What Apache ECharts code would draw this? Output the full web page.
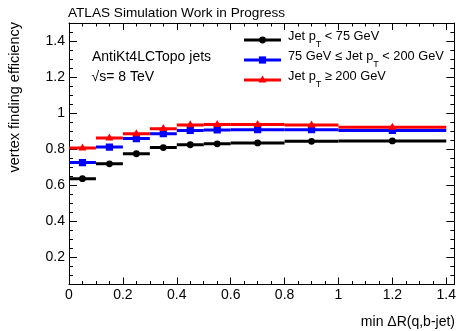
<!DOCTYPE html>
<html><head><meta charset="utf-8">
<script src="https://cdn.jsdelivr.net/npm/echarts@6/dist/echarts.min.js"></script>
<style>html,body{margin:0;padding:0;background:#fff}#c{width:459px;height:331px}</style>
</head><body><div id="c"></div>
<script>
// bins of min dR(q,b-jet)
const binLow    = [0, 0.1, 0.2, 0.3, 0.4, 0.5, 0.6, 0.8, 1.0];
const binHigh   = [0.1, 0.2, 0.3, 0.4, 0.5, 0.6, 0.8, 1.0, 1.4];
const binCenter = [0.05, 0.15, 0.25, 0.35, 0.45, 0.55, 0.7, 0.9, 1.2];
// vertex finding efficiency per jet pT range
const effPtLow  = [0.637, 0.719, 0.775, 0.809, 0.825, 0.830, 0.835, 0.844, 0.846];
const effPtMid  = [0.726, 0.812, 0.859, 0.886, 0.904, 0.907, 0.908, 0.908, 0.904];
const effPtHigh = [0.807, 0.862, 0.886, 0.914, 0.935, 0.937, 0.937, 0.934, 0.922];
// tick labels
const xMajorTicks = [0, 0.2, 0.4, 0.6, 0.8, 1, 1.2, 1.4];
const yMajorTicks = [0.2, 0.4, 0.6, 0.8, 1, 1.2, 1.4];
const xRange = [0, 1.43];
const yRange = [0.05, 1.5];

function minorTicks(lo, hi, step, majors) {
  const out = [];
  for (let k = Math.ceil(lo / step - 1e-9); k * step <= hi + 1e-9; k++) {
    const v = +(k * step).toFixed(4);
    if (!majors.some(m => Math.abs(m - v) < 1e-6)) out.push(v);
  }
  return out;
}
const xMinorTicks = minorTicks(xRange[0], xRange[1], 0.05, xMajorTicks);
const yMinorTicks = minorTicks(yRange[0], yRange[1], 0.05, yMajorTicks);

const FONT = '"Liberation Sans", Arial, Helvetica, sans-serif';
const black = '#000000', blue = '#0000ff', red = '#ff0000';

function markerShape(kind, cx, cy, color) {
  if (kind === 'circle') return {type: 'circle', shape: {cx, cy, r: 3.4}, style: {fill: color}};
  if (kind === 'square') return {type: 'rect', shape: {x: cx - 3.6, y: cy - 3.6, width: 7.2, height: 7.2}, style: {fill: color}};
  return {type: 'polygon', shape: {points: [[cx, cy - 4.6], [cx - 4, cy + 2.4], [cx + 4, cy + 2.4]]}, style: {fill: color}};
}

function makeSeries(name, values, color, marker) {
  const data = values.map((v, i) => [binLow[i], binHigh[i], binCenter[i], v]);
  return {
    type: 'custom', name, data, xAxisIndex: 0, yAxisIndex: 0, clip: true,
    encode: {x: [0, 1, 2], y: 3},
    renderItem(params, api) {
      const p0 = api.coord([api.value(0), api.value(3)]);
      const p1 = api.coord([api.value(1), api.value(3)]);
      const pc = api.coord([api.value(2), api.value(3)]);
      return {type: 'group', children: [
        {type: 'line', shape: {x1: p0[0], y1: p0[1], x2: p1[0], y2: p1[1]}, style: {stroke: color, lineWidth: 3}},
        markerShape(marker, pc[0], pc[1], color)
      ]};
    }
  };
}

function axis(position, ticks, len, withLine, labels, range, extra) {
  return Object.assign({
    type: 'value', position, min: range[0], max: range[1],
    axisLine: {show: withLine, onZero: false, lineStyle: {color: black, width: 1}},
    axisTick: {show: true, inside: true, length: len, customValues: ticks, lineStyle: {color: black, width: 1}},
    axisLabel: labels ? {show: true, customValues: ticks, fontSize: 14, fontFamily: FONT, color: black,
      formatter: v => String(+(+v).toFixed(1))} : {show: false},
    splitLine: {show: false}
  }, extra || {});
}

function legendText(pre, post) {
  return '{a|' + pre + '}{s|T}{a|' + post + '}';
}
const richStyle = {
  a: {fontSize: 12.8, fontFamily: FONT, fill: black, color: black, lineHeight: 16, verticalAlign: 'top'},
  s: {fontSize: 9, fontFamily: FONT, fill: black, color: black, lineHeight: 10, padding: [11, 0, 0, 0], verticalAlign: 'top'}
};
function legendRow(y, color, marker, text) {
  return [
    {type: 'line', shape: {x1: 244, y1: y, x2: 281, y2: y}, style: {stroke: color, lineWidth: 3}},
    Object.assign(markerShape(marker, 262.5, y, color), {}),
    {type: 'text', x: 288, y: y - 10.5, style: {text: text, rich: richStyle, verticalAlign: 'top', align: 'left'}}
  ];
}

const chart = echarts.init(document.getElementById('c'), null, {renderer: 'canvas'});
chart.setOption({
  animation: false,
  backgroundColor: '#ffffff',
  grid: {left: 69, right: 3.5, top: 23, bottom: 46.5, containLabel: false},
  xAxis: [
    axis('bottom', xMajorTicks, 7, true, true, xRange, {axisLabel: {show: true, customValues: xMajorTicks, margin: 4, fontSize: 14, fontFamily: FONT, color: black, formatter: v => String(+(+v).toFixed(1))}}),
    axis('bottom', xMinorTicks, 3.5, false, false, xRange),
    axis('top', xMajorTicks, 7, true, false, xRange),
    axis('top', xMinorTicks, 3.5, false, false, xRange)
  ],
  yAxis: [
    axis('left', yMajorTicks, 8, true, true, yRange, {axisLabel: {show: true, customValues: yMajorTicks, margin: 4, fontSize: 14, fontFamily: FONT, color: black, formatter: v => String(+(+v).toFixed(1))}}),
    axis('left', yMinorTicks, 4, false, false, yRange),
    axis('right', yMajorTicks, 8, true, false, yRange),
    axis('right', yMinorTicks, 4, false, false, yRange)
  ],
  series: [
    makeSeries('Jet pT < 75 GeV', effPtLow, black, 'circle'),
    makeSeries('75 GeV ≤ Jet pT < 200 GeV', effPtMid, blue, 'square'),
    makeSeries('Jet pT ≥ 200 GeV', effPtHigh, red, 'triangle')
  ],
  graphic: [
    {type: 'text', x: 68, y: 13.4, style: {text: 'ATLAS Simulation Work in Progress', fontSize: 13.6, fontFamily: FONT, fill: black, verticalAlign: 'middle'}},
    {type: 'text', x: 92, y: 56.8, style: {text: 'AntiKt4LCTopo jets', fontSize: 14, fontFamily: FONT, fill: black, verticalAlign: 'middle'}},
    {type: 'text', x: 91.5, y: 76.8, style: {text: '√s= 8 TeV', fontSize: 14, fontFamily: FONT, fill: black, verticalAlign: 'middle'}},
    {type: 'text', x: 15, y: 22, rotation: Math.PI / 2, style: {text: 'vertex finding efficiency', fontSize: 14.5, fontFamily: FONT, fill: black, align: 'right', verticalAlign: 'middle'}},
    {type: 'text', x: 455, y: 322, style: {text: 'min ΔR(q,b-jet)', fontSize: 14, fontFamily: FONT, fill: black, align: 'right', verticalAlign: 'middle'}},
    ...legendRow(40, black, 'circle', legendText('Jet p', ' < 75 GeV')),
    ...legendRow(60, blue, 'square', legendText('75 GeV ≤ Jet p', ' < 200 GeV')),
    ...legendRow(80, red, 'triangle', legendText('Jet p', ' ≥ 200 GeV'))
  ]
});
</script></body></html>
